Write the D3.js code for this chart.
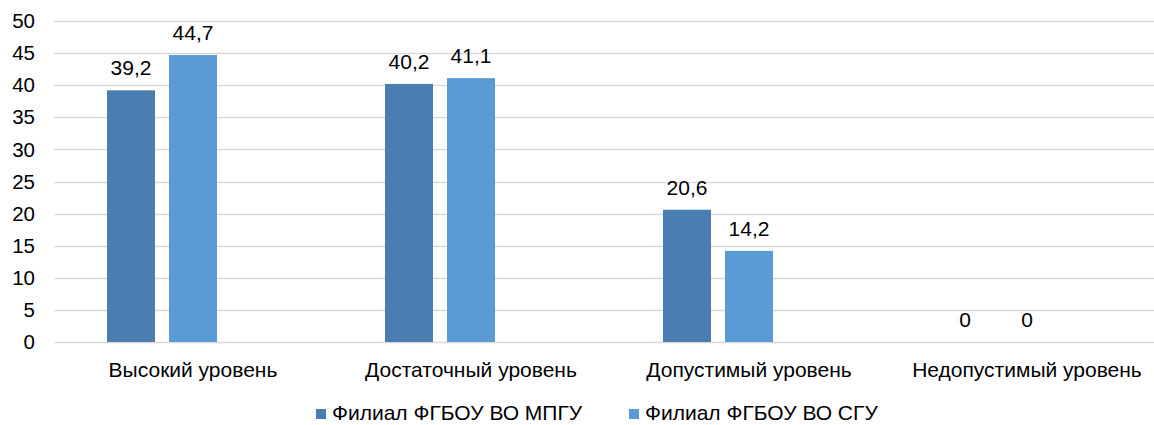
<!DOCTYPE html>
<html>
<head>
<meta charset="utf-8">
<script src="https://cdn.jsdelivr.net/npm/d3@7"></script>
<style>
  body { margin: 0; background: #fff; }
  svg { display: block; font-family: "Liberation Sans", Arial, sans-serif; }
</style>
</head>
<body>
<svg width="1154" height="425"></svg>
<script>
var categories = ["Высокий уровень", "Достаточный уровень", "Допустимый уровень", "Недопустимый уровень"];
var seriesNames = ["Филиал ФГБОУ ВО МПГУ", "Филиал ФГБОУ ВО СГУ", ""];
var mpguValues = [39.2, 40.2, 20.6, 0];
var sguValues = [44.7, 41.1, 14.2, 0];
var colors = ["#4a7eb0", "#5b9bd5", "none"];
var yTicks = [0, 5, 10, 15, 20, 25, 30, 35, 40, 45, 50];

var svg = d3.select("svg"),
    plotLeft = 54, plotTop = 21, plotBottom = 342;

var x = d3.scaleBand()
    .domain(categories)
    .range([plotLeft, plotLeft + 4 * 278])
    .paddingInner(0).paddingOuter(0);

// third (empty) series keeps bars left of category centre, like the original
var x1 = d3.scaleBand()
    .domain([0, 1, 2])
    .range([53, 278 - 53])
    .paddingInner(14 / 62).paddingOuter(0);

var y = d3.scaleLinear().domain([0, 50]).range([plotBottom, plotTop]);

var fmt = function(v) { return String(v).replace(".", ","); };

// grid
svg.append("g").selectAll("line")
    .data(yTicks)
    .enter().append("line")
    .attr("x1", plotLeft).attr("x2", 1154)
    .attr("y1", function(d) { return Math.round(y(d)) + 0.5; })
    .attr("y2", function(d) { return Math.round(y(d)) + 0.5; })
    .attr("stroke", "#d9d9d9").attr("stroke-width", 1.5);

// y labels
svg.append("g").selectAll("text")
    .data(yTicks)
    .enter().append("text")
    .attr("x", 35)
    .attr("y", function(d) { return y(d); })
    .attr("dy", "0.35em")
    .attr("text-anchor", "end")
    .attr("font-size", 20.5)
    .attr("fill", "#000")
    .text(function(d) { return d; });

var series = [mpguValues, sguValues];

series.forEach(function(vals, i) {
  var g = svg.append("g");
  g.selectAll("rect")
    .data(vals)
    .enter().append("rect")
    .attr("x", function(d, j) { return x(categories[j]) + x1(i); })
    .attr("y", function(d) { return y(d); })
    .attr("width", x1.bandwidth())
    .attr("height", function(d) { return plotBottom - y(d); })
    .attr("fill", colors[i]);

  g.selectAll("text")
    .data(vals)
    .enter().append("text")
    .attr("x", function(d, j) { return x(categories[j]) + x1(i) + x1.bandwidth() / 2; })
    .attr("y", function(d) { return y(d) - 15; })
    .attr("text-anchor", "middle")
    .attr("font-size", 21)
    .text(function(d) { return fmt(d); });
});

// category labels
svg.append("g").selectAll("text")
    .data(categories)
    .enter().append("text")
    .attr("x", function(d) { return x(d) + x.bandwidth() / 2; })
    .attr("y", 377)
    .attr("text-anchor", "middle")
    .attr("font-size", 21)
    .text(function(d) { return d; });

// legend (nudged up a little so descenders are not clipped)
var legendX = [316, 629];
var lg = svg.append("g").selectAll("g")
    .data([0, 1])
    .enter().append("g")
    .attr("transform", function(d) { return "translate(" + legendX[d] + ",409)"; });
lg.append("rect").attr("width", 10).attr("height", 10)
    .attr("fill", function(d) { return colors[d]; });
lg.append("text").attr("x", 16).attr("y", 11)
    .attr("font-size", 21)
    .text(function(d) { return seriesNames[d]; });
</script>
</body>
</html>
